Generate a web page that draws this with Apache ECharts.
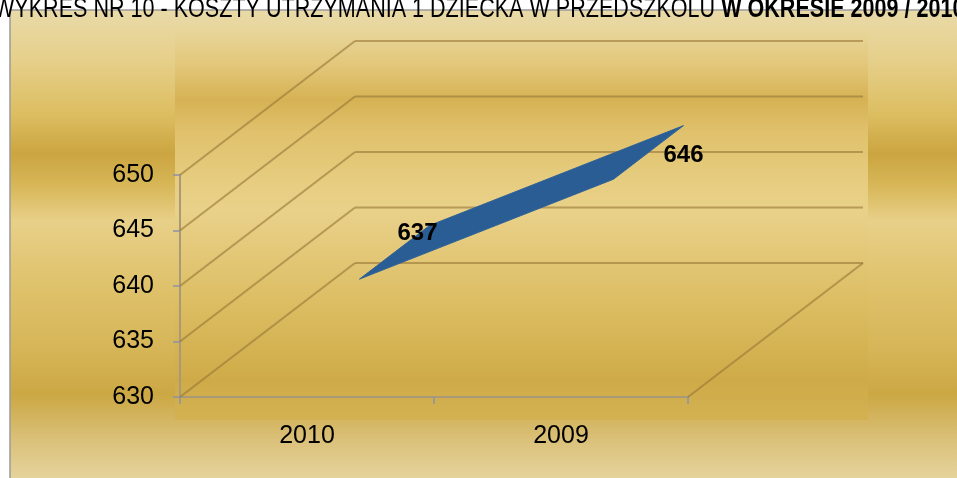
<!DOCTYPE html>
<html>
<head>
<meta charset="utf-8">
<script src="https://cdn.jsdelivr.net/npm/echarts@6/dist/echarts.min.js"></script>
<style>
  html, body { margin: 0; padding: 0; background: #fff; }
  #main { width: 957px; height: 478px; }
</style>
</head>
<body>
<div id="main"></div>
<script>
// data
var categories = ['2010', '2009'];
var costs = [637, 646];
var yTicks = [630, 635, 640, 645, 650];
var titleText = 'WYKRES NR 10 - KOSZTY UTRZYMANIA 1 DZIECKA W PRZEDSZKOLU ';
var titleBold = 'W OKRESIE 2009 / 2010';

// pseudo 3d look (pixels)
var DEPTH = [175, -134];
var RIBBON = [0.3, 0.7];
var LABEL_SHIFT = [[23, -19], [35, 3]];
var FONT = '"Liberation Sans", Arial, sans-serif';
var GRID_COLOR = 'rgba(150, 118, 55, 0.6)';

var myChart = echarts.init(document.getElementById('main'));

function wallItem(params, api) {
    var v = api.value(1);
    var p = api.coord([0, v]);
    var band = api.size([1, 0])[0];
    var x0 = p[0] - band / 2;
    var x1 = x0 + band * categories.length;
    var bx = x0 + DEPTH[0], by = p[1] + DEPTH[1];
    var style = { stroke: GRID_COLOR, lineWidth: 2.2, fill: null };
    var children = [
        { type: 'line', shape: { x1: x0, y1: p[1], x2: bx, y2: by }, style: style },
        { type: 'line', shape: { x1: bx, y1: by, x2: x1 + DEPTH[0], y2: by }, style: style }
    ];
    if (v === yTicks[0]) {
        children.push({ type: 'line', shape: { x1: x1, y1: p[1], x2: x1 + DEPTH[0], y2: by }, style: style });
    }
    return { type: 'group', children: children };
}

function ribbonItem(params, api) {
    var a = api.coord([api.value(0), api.value(1)]);
    var b = api.coord([api.value(2), api.value(3)]);
    function at(p, f) { return [p[0] + DEPTH[0] * f, p[1] + DEPTH[1] * f]; }
    return {
        type: 'polygon',
        shape: { points: [at(a, RIBBON[0]), at(a, RIBBON[1]), at(b, RIBBON[1]), at(b, RIBBON[0])] },
        style: { fill: '#2a5d94', stroke: '#2f6398', lineWidth: 1 }
    };
}

function labelItem(params, api) {
    var p = api.coord([api.value(0), api.value(1)]);
    var s = LABEL_SHIFT[params.dataIndex];
    return {
        type: 'text',
        style: {
            x: p[0] + DEPTH[0] * 0.5 + s[0],
            y: p[1] + DEPTH[1] * 0.5 + s[1],
            text: String(api.value(1)),
            font: 'bold 24px ' + FONT,
            fill: '#000',
            align: 'center',
            verticalAlign: 'middle'
        }
    };
}

var segments = [];
for (var i = 0; i < costs.length - 1; i++) {
    segments.push([i, costs[i], i + 1, costs[i + 1]]);
}

var option = {
    backgroundColor: '#fff',
    animation: false,
    graphic: [
        {
            type: 'rect', z: -10,
            shape: { x: 10, y: 10, width: 960, height: 480 },
            style: {
                stroke: '#9a9a9a', lineWidth: 1.5,
                fill: new echarts.graphic.LinearGradient(0, 0, 0, 1, [
                    { offset: 0, color: '#e9daa8' },
                    { offset: 0.1, color: '#e6d08c' },
                    { offset: 0.22, color: '#dcbd60' },
                    { offset: 0.3, color: '#cba540' },
                    { offset: 0.37, color: '#d8b85a' },
                    { offset: 0.44, color: '#e8d089' },
                    { offset: 0.56, color: '#e0c36e' },
                    { offset: 0.7, color: '#d6b658' },
                    { offset: 0.8, color: '#cca844' },
                    { offset: 0.9, color: '#dbc27c' },
                    { offset: 1, color: '#e9daa8' }
                ])
            }
        },
        {
            type: 'rect', z: -9,
            shape: { x: 175, y: 25, width: 693, height: 395 },
            style: {
                fill: new echarts.graphic.LinearGradient(0, 0, 0, 1, [
                    { offset: 0, color: '#e8d89f' },
                    { offset: 0.1, color: '#e3c77a' },
                    { offset: 0.19, color: '#d6b254' },
                    { offset: 0.27, color: '#e0c16c' },
                    { offset: 0.4, color: '#e6cd80' },
                    { offset: 0.47, color: '#e9d18a' },
                    { offset: 0.6, color: '#e2c674' },
                    { offset: 0.72, color: '#dbbc60' },
                    { offset: 0.9, color: '#cfab48' },
                    { offset: 1, color: '#d3b152' }
                ])
            }
        },
        {
            // title, condensed like the original
            type: 'text', z: 10,
            x: -6, y: 23, scaleX: 0.77,
            style: {
                x: 0, y: 0,
                text: '{n|' + titleText + '}{b|' + titleBold + '}',
                verticalAlign: 'bottom',
                rich: {
                    n: { fontFamily: FONT, fontSize: 28, fontWeight: 'normal', fill: '#000', lineHeight: 28 },
                    b: { fontFamily: FONT, fontSize: 28, fontWeight: 'bold', fill: '#000', lineHeight: 28 }
                }
            }
        }
    ],
    grid: { left: 180, right: 269, top: 175, bottom: 81 },
    xAxis: {
        type: 'category',
        data: categories,
        boundaryGap: true,
        axisLine: { lineStyle: { color: '#a89a78', width: 2 } },
        axisTick: { show: true, length: 7, lineStyle: { color: '#8a93a6', width: 1.5 } },
        axisLabel: { fontFamily: FONT, fontSize: 25, color: '#000', margin: 27 },
        splitLine: { show: false }
    },
    yAxis: {
        type: 'value',
        min: 630,
        max: 650,
        interval: 5,
        axisLine: { show: true, lineStyle: { color: '#a89a78', width: 2 } },
        axisTick: { show: true, length: 7, lineStyle: { color: '#8a93a6', width: 1.5 } },
        axisLabel: { fontFamily: FONT, fontSize: 25, color: '#000', margin: 26 },
        splitLine: { show: false }
    },
    series: [
        {
            type: 'custom', name: 'walls', z: 1,
            renderItem: wallItem,
            data: yTicks.map(function (v) { return [0, v]; })
        },
        {
            type: 'custom', name: 'koszt', z: 3,
            renderItem: ribbonItem,
            data: segments
        },
        {
            type: 'custom', name: 'etykiety', z: 4,
            renderItem: labelItem,
            data: costs.map(function (v, k) { return [k, v]; })
        }
    ]
};

myChart.setOption(option);
</script>
</body>
</html>
